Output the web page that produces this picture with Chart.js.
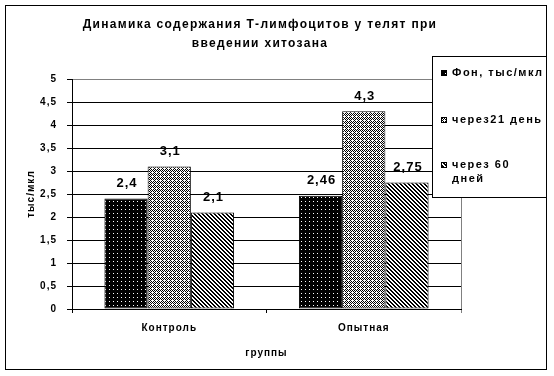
<!DOCTYPE html>
<html><head><meta charset="utf-8">
<script src="https://cdn.jsdelivr.net/npm/chart.js@4/dist/chart.umd.min.js"></script>
<style>html,body{margin:0;padding:0;background:#fff;}canvas{display:block;}</style>
</head><body>
<canvas id="c" width="554" height="376"></canvas>
<script>
// ---- data ----
const titleLines = ['Динамика содержания Т-лимфоцитов у телят при', 'введении хитозана'];
const categories = ['Контроль', 'Опытная'];
const seriesNames = ['Фон, тыс/мкл', 'через21 день', 'через 60 дней'];
const legendLines = [['Фон, тыс/мкл'], ['через21 день'], ['через 60', 'дней']];
const fon = [2.4, 2.46];
const day21 = [3.1, 4.3];
const day60 = [2.1, 2.75];
const valueLabels = [['2,4', '2,46'], ['3,1', '4,3'], ['2,1', '2,75']];
const yMin = 0, yMax = 5, yStep = 0.5;
const xTitle = 'группы';
const yTitle = 'тыс/мкл';

// ---- patterns ----
const FONT = '"Liberation Sans", Arial, sans-serif';
function makePattern(isBlack) {
  const c = document.createElement('canvas');
  c.width = 4; c.height = 4;
  const g = c.getContext('2d');
  const img = g.createImageData(4, 4);
  for (let y = 0; y < 4; y++) for (let x = 0; x < 4; x++) {
    const v = isBlack(x, y) ? 0 : 255;
    const i = (y * 4 + x) * 4;
    img.data[i] = v; img.data[i + 1] = v; img.data[i + 2] = v; img.data[i + 3] = 255;
  }
  g.putImageData(img, 0, 0);
  return g.createPattern(c, 'repeat');
}
const patDots = makePattern((x, y) => !(x === 1 && y === 1));
const patGray = makePattern((x, y) => (x + y) % 2 === 0 && !(x === 0 && y === 0));
const patDiag = makePattern((x, y) => { const d = ((x - y) % 4 + 4) % 4; return d === 0 || d === 1; });
const patterns = [patDots, patGray, patDiag];

const deco = {
  id: 'deco',
  beforeLayout(chart) { chart.ctx.letterSpacing = '1px'; },
  beforeDraw(chart) {
    const ctx = chart.ctx;
    ctx.save();
    ctx.fillStyle = '#fff';
    ctx.fillRect(0, 0, chart.width, chart.height);
    ctx.restore();
    ctx.letterSpacing = '1px';
  },
  afterDatasetsDraw(chart) {
    const ctx = chart.ctx;
    ctx.save();
    ctx.letterSpacing = '1px';
    ctx.font = 'bold 13px ' + FONT;
    ctx.fillStyle = '#000';
    ctx.textAlign = 'center';
    ctx.textBaseline = 'middle';
    chart.data.datasets.forEach((ds, di) => {
      chart.getDatasetMeta(di).data.forEach((bar, i) => {
        ctx.fillText(valueLabels[di][i], bar.x + 1, bar.y - 15);
      });
    });
    ctx.restore();
  },
  afterDraw(chart) {
    const ctx = chart.ctx;
    const a = chart.chartArea;
    ctx.save();
    ctx.fillStyle = '#000';
    // title
    ctx.letterSpacing = '1.3px';
    ctx.font = 'bold 12px ' + FONT;
    ctx.textAlign = 'center';
    ctx.textBaseline = 'middle';
    ctx.fillText(titleLines[0], 260, 25);
    ctx.fillText(titleLines[1], 260, 44);
    // axis titles
    ctx.letterSpacing = '1px';
    ctx.font = 'bold 10px ' + FONT;
    ctx.fillText(xTitle, (a.left + a.right) / 2, 353);
    ctx.save();
    ctx.translate(31, (a.top + a.bottom) / 2);
    ctx.rotate(-Math.PI / 2);
    ctx.fillText(yTitle, 0, 0);
    ctx.restore();
    // legend
    const lx = 432, ly = 56, lr = 547, lb = 198;
    ctx.fillStyle = '#fff';
    ctx.fillRect(lx, ly, lr - lx, lb - ly);
    ctx.strokeStyle = '#000';
    ctx.lineWidth = 1;
    ctx.strokeRect(lx + 0.5, ly + 0.5, lr - lx - 1, lb - ly - 1);
    const rowY = [73, 120, 165];
    ctx.letterSpacing = '1.5px';
    ctx.font = 'bold 11px ' + FONT;
    ctx.textAlign = 'left';
    legendLines.forEach((lines, i) => {
      ctx.fillStyle = patterns[i];
      ctx.fillRect(441, rowY[i] - 3, 6, 6);
      ctx.strokeStyle = '#000';
      ctx.strokeRect(441.5, rowY[i] - 2.5, 5, 5);
      ctx.fillStyle = '#000';
      lines.forEach((t, k) => ctx.fillText(t, 452, rowY[i] + k * 14));
    });
    // outer frame
    ctx.strokeStyle = '#000';
    ctx.strokeRect(5.5, 5.5, 541, 364);
    ctx.restore();
  }
};

const tickFont = { family: FONT, size: 10, weight: 'bold' };

new Chart(document.getElementById('c'), {
  type: 'bar',
  data: {
    labels: categories,
    datasets: [fon, day21, day60].map((d, i) => ({
      label: seriesNames[i],
      data: d,
      backgroundColor: patterns[i],
      borderColor: '#000',
      borderWidth: 1,
      borderSkipped: false,
      categoryPercentage: 130 / 195,
      barPercentage: 1
    }))
  },
  options: {
    responsive: false,
    animation: false,
    devicePixelRatio: 1,
    layout: { padding: { left: 0, top: 79, right: 93, bottom: 0 } },
    plugins: { legend: { display: false }, title: { display: false }, tooltip: { enabled: false } },
    scales: {
      x: {
        grid: {
          offset: true,
          drawOnChartArea: true,
          color: c => (c.index === undefined ? '#808080' : 'rgba(0,0,0,0)'),
          tickColor: c => (c.index === undefined ? '#808080' : '#000'),
          tickLength: 4,
          lineWidth: 1
        },
        border: { color: '#000' },
        ticks: { color: '#000', font: tickFont, padding: 9 },
        afterFit(s) { s.height = 67; }
      },
      y: {
        min: yMin, max: yMax,
        ticks: { stepSize: yStep, color: '#000', font: tickFont, padding: 10,
          callback: v => String(v).replace('.', ',') },
        grid: {
          color: c => (c.tick && c.tick.value === yMax ? '#808080' : '#000'),
          tickColor: '#000',
          tickLength: 5
        },
        border: { color: '#000' },
        afterFit(s) { s.width = 72; }
      }
    }
  },
  plugins: [deco]
});
</script>
</body></html>
